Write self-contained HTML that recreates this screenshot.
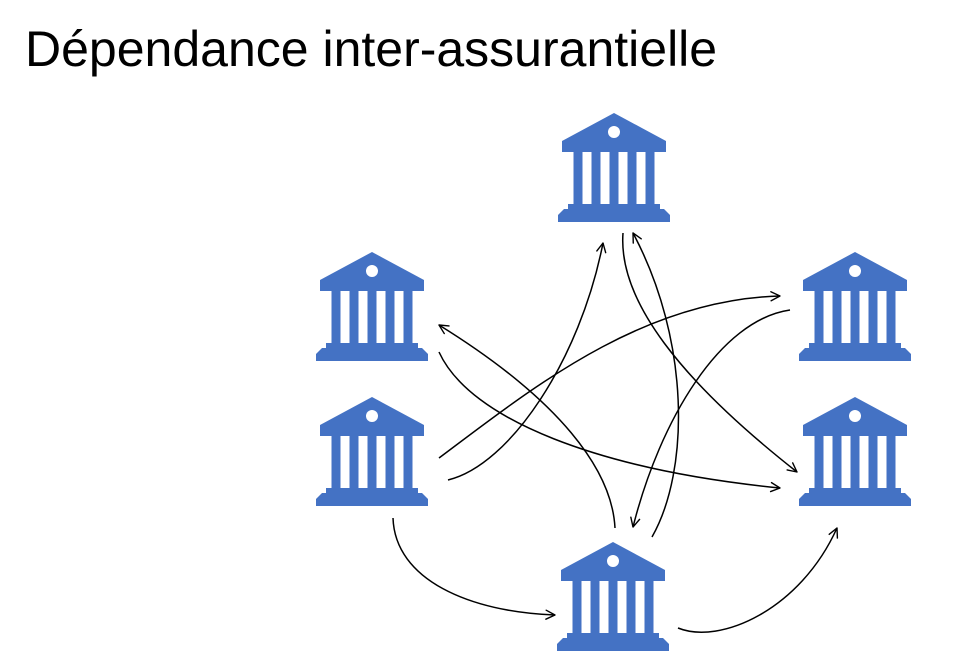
<!DOCTYPE html>
<html>
<head>
<meta charset="utf-8">
<style>
  html, body { margin: 0; padding: 0; background: #ffffff; }
  body { width: 966px; height: 661px; overflow: hidden; }
  svg { display: block; }
</style>
</head>
<body>
<svg width="966" height="661" viewBox="0 0 966 661" xmlns="http://www.w3.org/2000/svg">
  <defs>
    <marker id="arr" markerUnits="userSpaceOnUse" viewBox="0 0 12 12" markerWidth="12" markerHeight="12" refX="11" refY="6" orient="auto">
      <path d="M2,1.5 L11,6 L2,10.5" fill="none" stroke="#000" stroke-width="1.4" stroke-linecap="round" stroke-linejoin="round"/>
    </marker>
    <g id="bank" fill="#4472C4">
      <path d="M0,0 L-52,28 L-52,39 L52,39 L52,28 Z"/>
      <rect x="-40.5" y="38.5" width="9" height="53"/>
      <rect x="-22.5" y="38.5" width="9" height="53"/>
      <rect x="-4.5" y="38.5" width="9" height="53"/>
      <rect x="13.5" y="38.5" width="9" height="53"/>
      <rect x="31.5" y="38.5" width="9" height="53"/>
      <rect x="-46" y="91" width="92" height="5.5"/>
      <path d="M-50,96 L50,96 L56,102 L56,109 L-56,109 L-56,102 Z"/>
    </g>
  </defs>

  <text x="25" y="66" font-family="'Liberation Sans', Arial, sans-serif" font-size="50" fill="#000">Dépendance inter-assurantielle</text>

  <!-- banks -->
  <g>
    <use href="#bank" x="614" y="113"/>
    <circle cx="614" cy="132" r="6" fill="#fff"/>
    <use href="#bank" x="613" y="542"/>
    <circle cx="613" cy="561" r="6" fill="#fff"/>
    <use href="#bank" x="372" y="252"/>
    <circle cx="372" cy="271" r="6" fill="#fff"/>
    <use href="#bank" x="372" y="397"/>
    <circle cx="372" cy="416" r="6" fill="#fff"/>
    <use href="#bank" x="855" y="252"/>
    <circle cx="855" cy="271" r="6" fill="#fff"/>
    <use href="#bank" x="855" y="397"/>
    <circle cx="855" cy="416" r="6" fill="#fff"/>
  </g>

  <!-- connectors -->
  <g fill="none" stroke="#000" stroke-width="1.5" marker-end="url(#arr)">
    <!-- 1 bottom -> left upper -->
    <path d="M615,528 C612,470 560,400 439,325"/>
    <!-- 2 left upper -> right lower -->
    <path d="M439,352 C470,420 600,470 780,488"/>
    <!-- 3 left lower -> right upper -->
    <path d="M439,458 C530,390 640,300 780,296"/>
    <!-- 4 left lower -> top -->
    <path d="M448,480 C510,465 580,360 603,243"/>
    <!-- 5 top -> right lower -->
    <path d="M623,233 C618,300 680,380 797,472"/>
    <!-- 6 bottom -> top -->
    <path d="M652,537 C690,470 690,340 633,233"/>
    <!-- 7 right upper -> bottom -->
    <path d="M790,310 C720,320 660,420 633,527"/>
    <!-- 8 left lower -> bottom -->
    <path d="M393,518 C395,580 470,612 555,615"/>
    <!-- 9 bottom -> right lower -->
    <path d="M678,628 C720,645 800,610 837,528"/>
  </g>
</svg>
</body>
</html>
